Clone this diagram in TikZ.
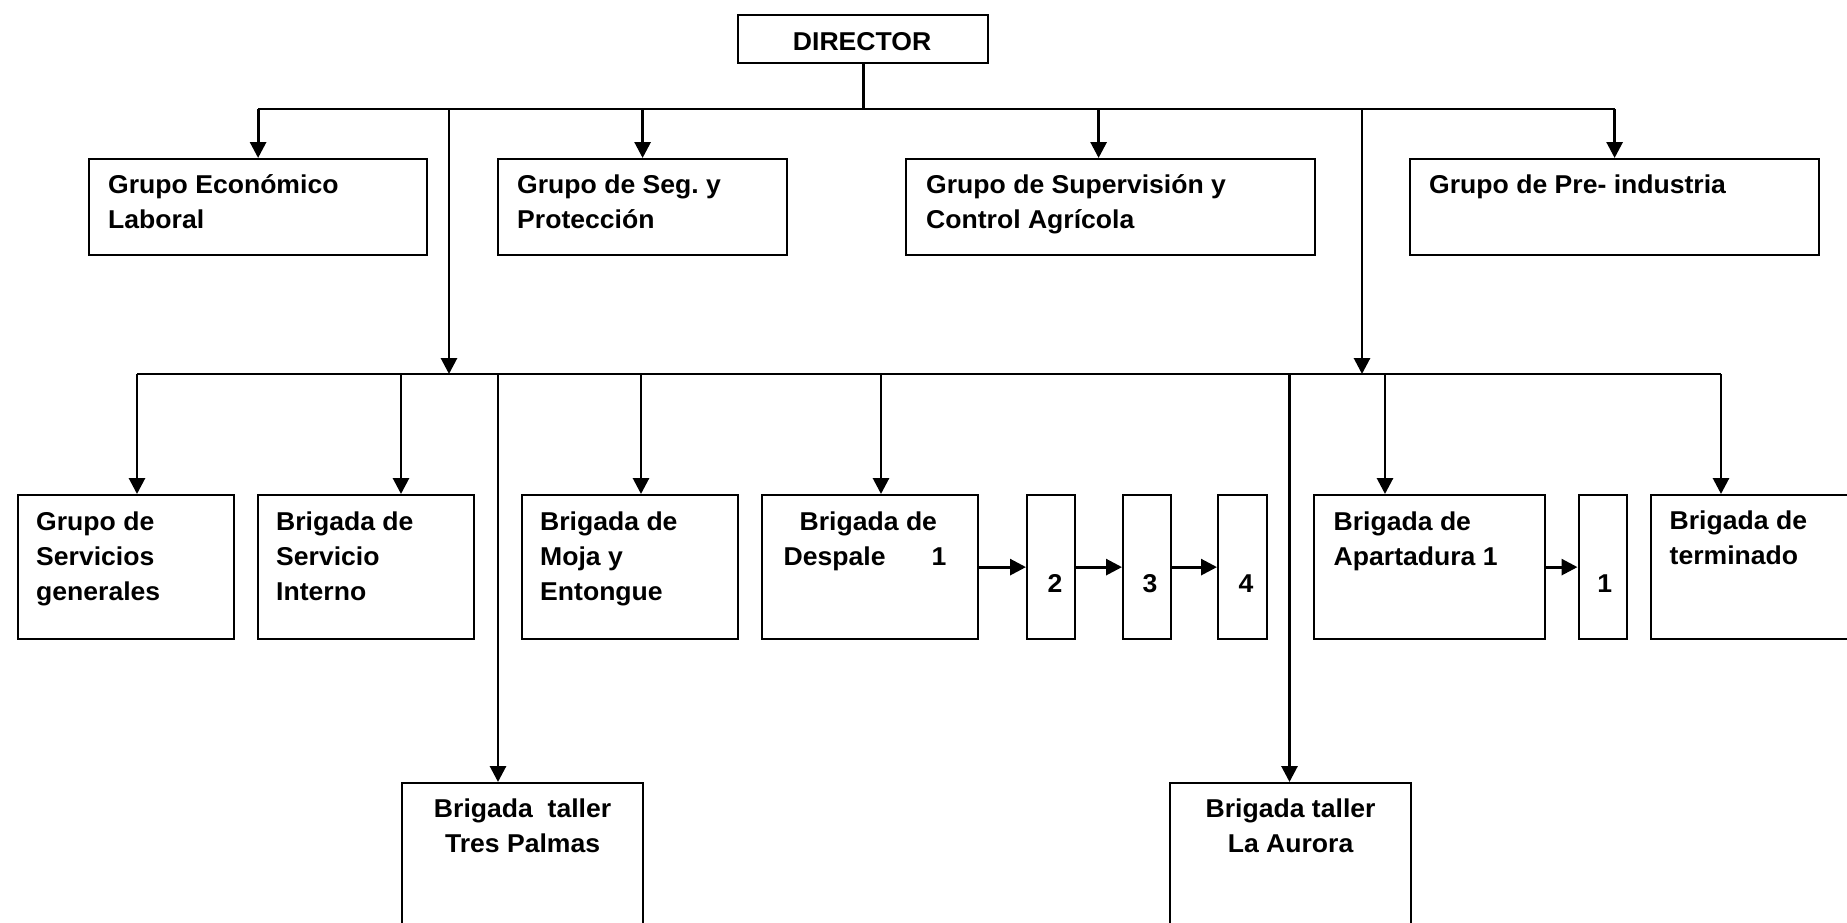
\documentclass[tikz,border=0pt]{standalone}
\usepackage{fontspec}
\setmainfont{Liberation Sans}[FakeStretch=1.03]
\usetikzlibrary{arrows.meta,calc}
\frenchspacing

\tikzset{
  box/.style={draw, line width=2.2pt, inner sep=0pt, anchor=north west},
  conn/.style={line width=2.9pt},
  arr/.style={conn, -{Triangle[length=16pt,width=16pt]}},
  txt/.style={inner sep=0pt, anchor=base west, font=\bfseries\fontsize{25.8}{35}\selectfont},
  ctxt/.style={txt, anchor=base},
}
\newcommand{\lft}[1]{\parbox[t]{400pt}{\raggedright #1}}
\newcommand{\ctr}[1]{\parbox[t]{240pt}{\centering #1}}

\begin{document}
\begin{tikzpicture}[x=1pt,y=-1pt]
\useasboundingbox (0,0) rectangle (1847,922);
\clip (0,0) rectangle (1847,922);

% ---- boxes ----
\node[box, minimum width=250pt, minimum height=48pt] (dir) at (737,14) {};

\node[box, minimum width=338pt, minimum height=96pt] (eco) at (88,158) {};
\node[box, minimum width=289pt, minimum height=96pt] (seg) at (497,158) {};
\node[box, minimum width=409pt, minimum height=96pt] (sup) at (905,158) {};
\node[box, minimum width=409pt, minimum height=96pt] (pre) at (1409,158) {};

\node[box, minimum width=216.5pt, minimum height=144pt] (sg) at (16.5,494) {};
\node[box, minimum width=216pt, minimum height=144pt] (si) at (257,494) {};
\node[box, minimum width=216pt, minimum height=144pt] (moja) at (521,494) {};
\node[box, minimum width=216pt, minimum height=144pt] (desp) at (761,494) {};
\node[box, minimum width=48pt, minimum height=144pt] (n2) at (1026,494) {};
\node[box, minimum width=48pt, minimum height=144pt] (n3) at (1122,494) {};
\node[box, minimum width=49pt, minimum height=144pt] (n4) at (1217,494) {};
\node[box, minimum width=231pt, minimum height=144pt] (apar) at (1313,494) {};
\node[box, minimum width=48.5pt, minimum height=144pt] (n1) at (1577.5,494) {};
\node[box, minimum width=260pt, minimum height=144pt] (term) at (1649.5,494) {};

\node[box, minimum width=241pt, minimum height=180pt] (tp) at (401,782) {};
\node[box, minimum width=241pt, minimum height=180pt] (la) at (1169,782) {};

% ---- texts ----
\node[ctxt] (dir-t) at ($(dir.north)+(-1,36.5)$) {DIRECTOR};

\node[txt] (eco-t) at ($(eco.north west)+(20,35)$) {\lft{Grupo Económico\\Laboral}};
\node[txt] (seg-t) at ($(seg.north west)+(20,35)$) {\lft{Grupo de Seg. y\\Protección}};
\node[txt] (sup-t) at ($(sup.north west)+(21,35)$) {\lft{Grupo de Supervisión y\\Control Agrícola}};
\node[txt] (pre-t) at ($(pre.north west)+(20,35)$) {\lft{Grupo de Pre- industria}};

\node[txt] (sg-t) at ($(sg.north west)+(19.5,36)$) {\lft{Grupo de\\Servicios\\generales}};
\node[txt] (si-t) at ($(si.north west)+(19,36)$) {\lft{Brigada de\\Servicio\\Interno}};
\node[txt] (moja-t) at ($(moja.north west)+(19,36)$) {\lft{Brigada de\\Moja y\\Entongue}};
\node[txt] (desp-t) at ($(desp.north west)+(22.5,36)$) {\lft{\hspace*{16pt}Brigada de\\Despale\hspace{46pt}1}};
\node[txt] (apar-t) at ($(apar.north west)+(20.5,36)$) {\lft{Brigada de\\Apartadura 1}};
\node[txt] (term-t) at ($(term.north west)+(20,35)$) {\lft{Brigada de\\terminado}};

\node[ctxt] (n2-t) at ($(n2.north)+(4,98)$) {2};
\node[ctxt] (n3-t) at ($(n3.north)+(3,98)$) {3};
\node[ctxt] (n4-t) at ($(n4.north)+(3.5,98)$) {4};
\node[ctxt] (n1-t) at ($(n1.north)+(2,98)$) {1};

\node[ctxt] (tp-t) at ($(tp.north)+(0,35)$) {\ctr{Brigada\ \ taller\\Tres Palmas}};
\node[ctxt] (la-t) at ($(la.north)+(0,35)$) {\ctr{Brigada taller\\La Aurora}};

% ---- first level bus ----
\coordinate (j0) at (dir.south |- 0,109);
\coordinate (busL) at (eco.north |- j0);
\coordinate (busR) at (pre.north |- j0);
\draw[conn] (dir.south) -- (j0);
\draw[conn] (busL) -- (busR);
\draw[arr] (busL) -- (eco.north);
\draw[arr] (seg.north |- j0) -- (seg.north);
\draw[arr] ([xshift=-12pt]sup.north |- j0) -- ([xshift=-12pt]sup.north);
\draw[arr] (busR) -- (pre.north);

% ---- second level bus ----
\coordinate (v1) at (449,109);
\coordinate (v2) at (1362,109);
\coordinate (k0) at (449,374);
\coordinate (bus2L) at (137,374);
\coordinate (bus2R) at (1721,374);
\draw[arr] (v1) -- (v1 |- k0);
\draw[arr] (v2) -- (v2 |- k0);
\draw[conn] (bus2L) -- (bus2R);

\coordinate (d-si) at (401,374);
\coordinate (d-moja) at (641,374);
\coordinate (d-desp) at (881,374);
\coordinate (d-apar) at (1385,374);
\coordinate (d-tp) at (498,374);
\coordinate (d-la) at (1289.5,374);

\draw[arr] (bus2L) -- (bus2L |- sg.north);
\draw[arr] (d-si) -- (d-si |- si.north);
\draw[arr] (d-moja) -- (d-moja |- moja.north);
\draw[arr] (d-desp) -- (d-desp |- desp.north);
\draw[arr] (d-apar) -- (d-apar |- apar.north);
\draw[arr] (bus2R) -- (bus2R |- term.north);
\draw[arr] (d-tp) -- (d-tp |- tp.north);
\draw[arr] (d-la) -- (d-la |- la.north);

% ---- sequential units ----
\draw[arr] (desp.east) -- (n2.west);
\draw[arr] (n2.east) -- (n3.west);
\draw[arr] (n3.east) -- (n4.west);
\draw[arr] (apar.east) -- (n1.west);
\end{tikzpicture}
\end{document}
